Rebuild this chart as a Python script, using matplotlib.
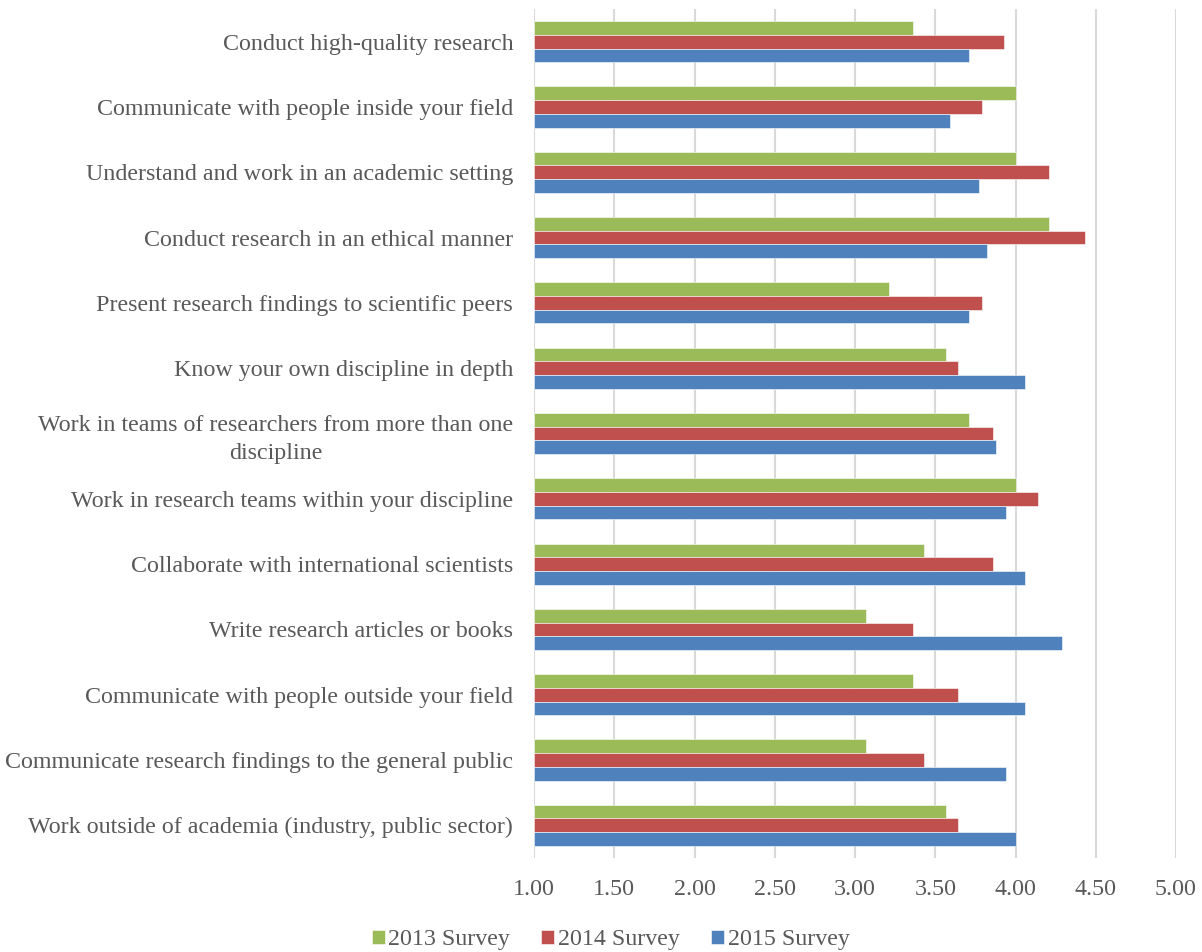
import numpy as np
import matplotlib.pyplot as plt

categories = [
    "Conduct high-quality research",
    "Communicate with people inside your field",
    "Understand and work in an academic setting",
    "Conduct research in an ethical manner",
    "Present research findings to scientific peers",
    "Know your own discipline in depth",
    "Work in teams of researchers from more than one\ndiscipline",
    "Work in research teams within your discipline",
    "Collaborate with international scientists",
    "Write research articles or books",
    "Communicate with people outside your field",
    "Communicate research findings to the general public",
    "Work outside of academia (industry, public sector)",
]
s2013 = [3.36, 4.00, 4.00, 4.21, 3.21, 3.57, 3.71, 4.00, 3.43, 3.07, 3.36, 3.07, 3.57]
s2014 = [3.93, 3.79, 4.21, 4.43, 3.79, 3.64, 3.86, 4.14, 3.86, 3.36, 3.64, 3.43, 3.64]
s2015 = [3.71, 3.59, 3.77, 3.82, 3.71, 4.06, 3.88, 3.94, 4.06, 4.29, 4.06, 3.94, 4.00]
series_names = ["2013 Survey", "2014 Survey", "2015 Survey"]
colors = ["#9BBB59", "#C0504D", "#4F81BD"]

plt.rcParams['font.family'] = ['Liberation Serif', 'DejaVu Serif']
text_color = "#595959"
fs = 17.25

fig = plt.figure(figsize=(12.02, 9.52), dpi=100)
ax = fig.add_axes([534 / 1202, 94 / 952, 642 / 1202, 849 / 952])

n = len(categories)
y = np.arange(n)[::-1]
h = 0.21
base = 1.0
for vals, off, col, name in zip([s2013, s2014, s2015], [h, 0, -h], colors, series_names):
    vals = np.array(vals)
    ax.barh(y + off, vals - base, left=base, height=h, color=col,
            edgecolor="white", linewidth=0.4, label=name, zorder=3)

ax.set_xlim(1, 5)
ax.set_ylim(-0.5, n - 0.5)
ax.set_xticks(np.arange(1, 5.01, 0.5))
ax.set_xticklabels([f"{v:.2f}" for v in np.arange(1, 5.01, 0.5)])
ax.set_yticks(y)
ax.set_yticklabels(categories, multialignment="center", linespacing=1.45)
ax.tick_params(axis="both", length=0, labelsize=fs, colors=text_color)
ax.tick_params(axis="x", pad=15)
ax.tick_params(axis="y", pad=15)
ax.grid(axis="x", color="#D9D9D9", linewidth=1.5, zorder=0)
for sp in ax.spines.values():
    sp.set_visible(False)

fig.legend(loc="lower center", bbox_to_anchor=(0.508, -0.021), ncol=3, frameon=False,
           fontsize=fs, labelcolor=text_color, handlelength=0.55, handleheight=0.55,
           handletextpad=0.15, columnspacing=1.3)

fig.savefig("out.png", dpi=100)
